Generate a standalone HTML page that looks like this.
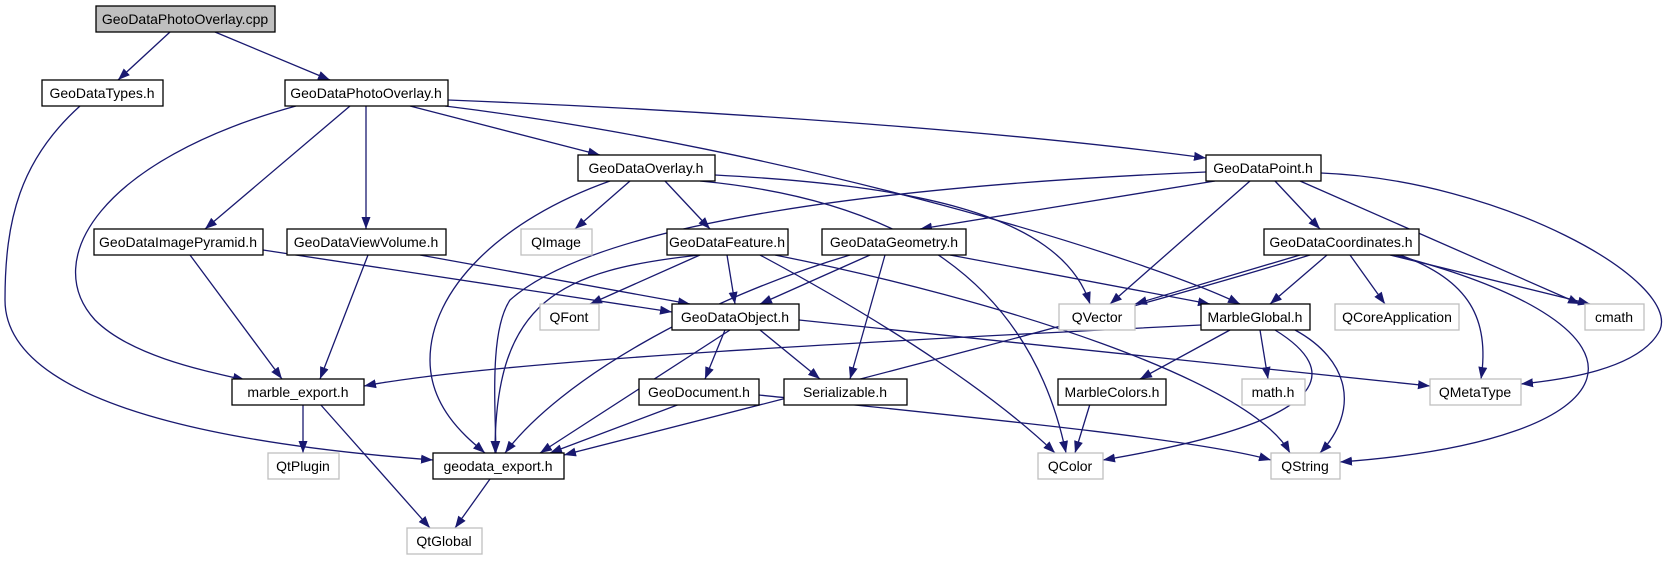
<!DOCTYPE html>
<html><head><meta charset="utf-8"><style>
html,body{margin:0;padding:0;background:#fff;}
svg text{font-family:"Liberation Sans",sans-serif;font-size:14px;}
</style></head><body>
<svg width="1669" height="560" viewBox="0 0 1669 560" xmlns="http://www.w3.org/2000/svg">
<defs><marker id="a" viewBox="0 0 12 10" refX="12" refY="5" markerWidth="12" markerHeight="10" markerUnits="userSpaceOnUse" orient="auto"><path d="M0,0.5 L12,5 L0,9.5 z" fill="#191970"/></marker></defs>
<g fill="none" stroke="#191970" stroke-width="1.3" marker-end="url(#a)">
<path d="M170,32 L118,80"/>
<path d="M215,32 L330,80"/>
<path d="M80,106 C20,160 5,220 5,300 C5,420 300,450 433,460"/>
<path d="M296,106 C100,160 40,260 95,320 C130,355 200,370 245,380"/>
<path d="M350,106 L205,229"/>
<path d="M366,106 L366,229"/>
<path d="M410,106 L600,155"/>
<path d="M445,106 C800,150 1150,260 1240,304"/>
<path d="M448,100 C700,110 1000,130 1206,158"/>
<path d="M610,181 C500,220 430,290 430,360 C430,410 470,440 485,453"/>
<path d="M630,181 L575,229"/>
<path d="M665,181 L710,229"/>
<path d="M700,181 C900,200 1030,280 1066,453"/>
<path d="M715,175 C900,185 1060,210 1090,304"/>
<path d="M1206,172 C900,185 600,220 510,300 C490,330 495,400 496,453"/>
<path d="M1215,181 L920,229"/>
<path d="M1275,181 L1320,229"/>
<path d="M1250,181 L1110,304"/>
<path d="M1300,181 L1580,304"/>
<path d="M1321,173 C1500,180 1680,280 1660,330 C1640,370 1560,380 1521,384"/>
<path d="M190,255 L282,379"/>
<path d="M263,250 L672,312"/>
<path d="M368,255 L320,379"/>
<path d="M420,255 L690,304"/>
<path d="M700,255 C560,270 495,300 495,453"/>
<path d="M700,255 L590,304"/>
<path d="M727,255 L735,304"/>
<path d="M760,255 C900,330 1000,400 1055,453"/>
<path d="M775,255 C1000,300 1250,380 1290,453"/>
<path d="M850,255 C700,300 560,380 505,453"/>
<path d="M870,255 L760,304"/>
<path d="M885,255 L850,379"/>
<path d="M950,255 L1210,304"/>
<path d="M1300,255 L1135,304"/>
<path d="M1310,255 C1100,320 700,420 564,455"/>
<path d="M1327,255 L1270,304"/>
<path d="M1350,255 L1385,304"/>
<path d="M1390,255 L1590,304"/>
<path d="M1400,255 C1470,280 1490,320 1481,379"/>
<path d="M1395,255 C1680,330 1640,440 1340,462"/>
<path d="M730,330 L540,453"/>
<path d="M725,330 L705,379"/>
<path d="M760,330 L820,379"/>
<path d="M799,320 L1430,386"/>
<path d="M1201,325 C900,340 500,360 364,386"/>
<path d="M1230,330 L1140,379"/>
<path d="M1260,330 L1268,379"/>
<path d="M1275,330 C1340,370 1340,420 1103,460"/>
<path d="M1295,330 C1350,360 1360,410 1320,453"/>
<path d="M303,404 L303,453"/>
<path d="M320,404 L430,528"/>
<path d="M680,404 L550,453"/>
<path d="M759,395 C1000,420 1200,440 1271,460"/>
<path d="M1090,404 L1075,453"/>
<path d="M490,479 L455,528"/>
</g>
<g stroke-width="1.3" text-anchor="middle">
<g stroke="#000" fill="#fff">
<rect x="96" y="6" width="179" height="26" fill="#bfbfbf"/>
<rect x="42" y="80" width="121" height="26"/>
<rect x="285" y="80" width="163" height="26"/>
<rect x="578" y="155" width="137" height="26"/>
<rect x="1206" y="155" width="115" height="26"/>
<rect x="94" y="229" width="169" height="26"/>
<rect x="287" y="229" width="159" height="26"/>
<rect x="667" y="229" width="121" height="26"/>
<rect x="822" y="229" width="144" height="26"/>
<rect x="1264" y="229" width="155" height="26"/>
<rect x="672" y="304" width="127" height="26"/>
<rect x="1201" y="304" width="109" height="26"/>
<rect x="232" y="379" width="132" height="26"/>
<rect x="639" y="379" width="120" height="26"/>
<rect x="784" y="379" width="123" height="26"/>
<rect x="1058" y="379" width="108" height="26"/>
<rect x="433" y="453" width="131" height="26"/>
</g>
<g stroke="#bfbfbf" fill="#fff">
<rect x="521" y="229" width="71" height="26"/>
<rect x="540" y="304" width="59" height="26"/>
<rect x="1059" y="304" width="76" height="26"/>
<rect x="1335" y="304" width="124" height="26"/>
<rect x="1585" y="304" width="59" height="26"/>
<rect x="1242" y="379" width="63" height="26"/>
<rect x="1430" y="379" width="91" height="26"/>
<rect x="268" y="453" width="71" height="26"/>
<rect x="1038" y="453" width="65" height="26"/>
<rect x="1271" y="453" width="69" height="26"/>
<rect x="407" y="528" width="75" height="26"/>
</g>
<g fill="#000">
<text x="185" y="24">GeoDataPhotoOverlay.cpp</text>
<text x="102" y="98">GeoDataTypes.h</text>
<text x="366" y="98">GeoDataPhotoOverlay.h</text>
<text x="646" y="173">GeoDataOverlay.h</text>
<text x="1263" y="173">GeoDataPoint.h</text>
<text x="178" y="247">GeoDataImagePyramid.h</text>
<text x="366" y="247">GeoDataViewVolume.h</text>
<text x="556" y="247">QImage</text>
<text x="727" y="247">GeoDataFeature.h</text>
<text x="894" y="247">GeoDataGeometry.h</text>
<text x="1341" y="247">GeoDataCoordinates.h</text>
<text x="569" y="322">QFont</text>
<text x="735" y="322">GeoDataObject.h</text>
<text x="1097" y="322">QVector</text>
<text x="1255" y="322">MarbleGlobal.h</text>
<text x="1397" y="322">QCoreApplication</text>
<text x="1614" y="322">cmath</text>
<text x="298" y="397">marble_export.h</text>
<text x="699" y="397">GeoDocument.h</text>
<text x="845" y="397">Serializable.h</text>
<text x="1112" y="397">MarbleColors.h</text>
<text x="1273" y="397">math.h</text>
<text x="1475" y="397">QMetaType</text>
<text x="303" y="471">QtPlugin</text>
<text x="498" y="471">geodata_export.h</text>
<text x="1070" y="471">QColor</text>
<text x="1305" y="471">QString</text>
<text x="444" y="546">QtGlobal</text>
</g>
</g>
</svg>
</body></html>
